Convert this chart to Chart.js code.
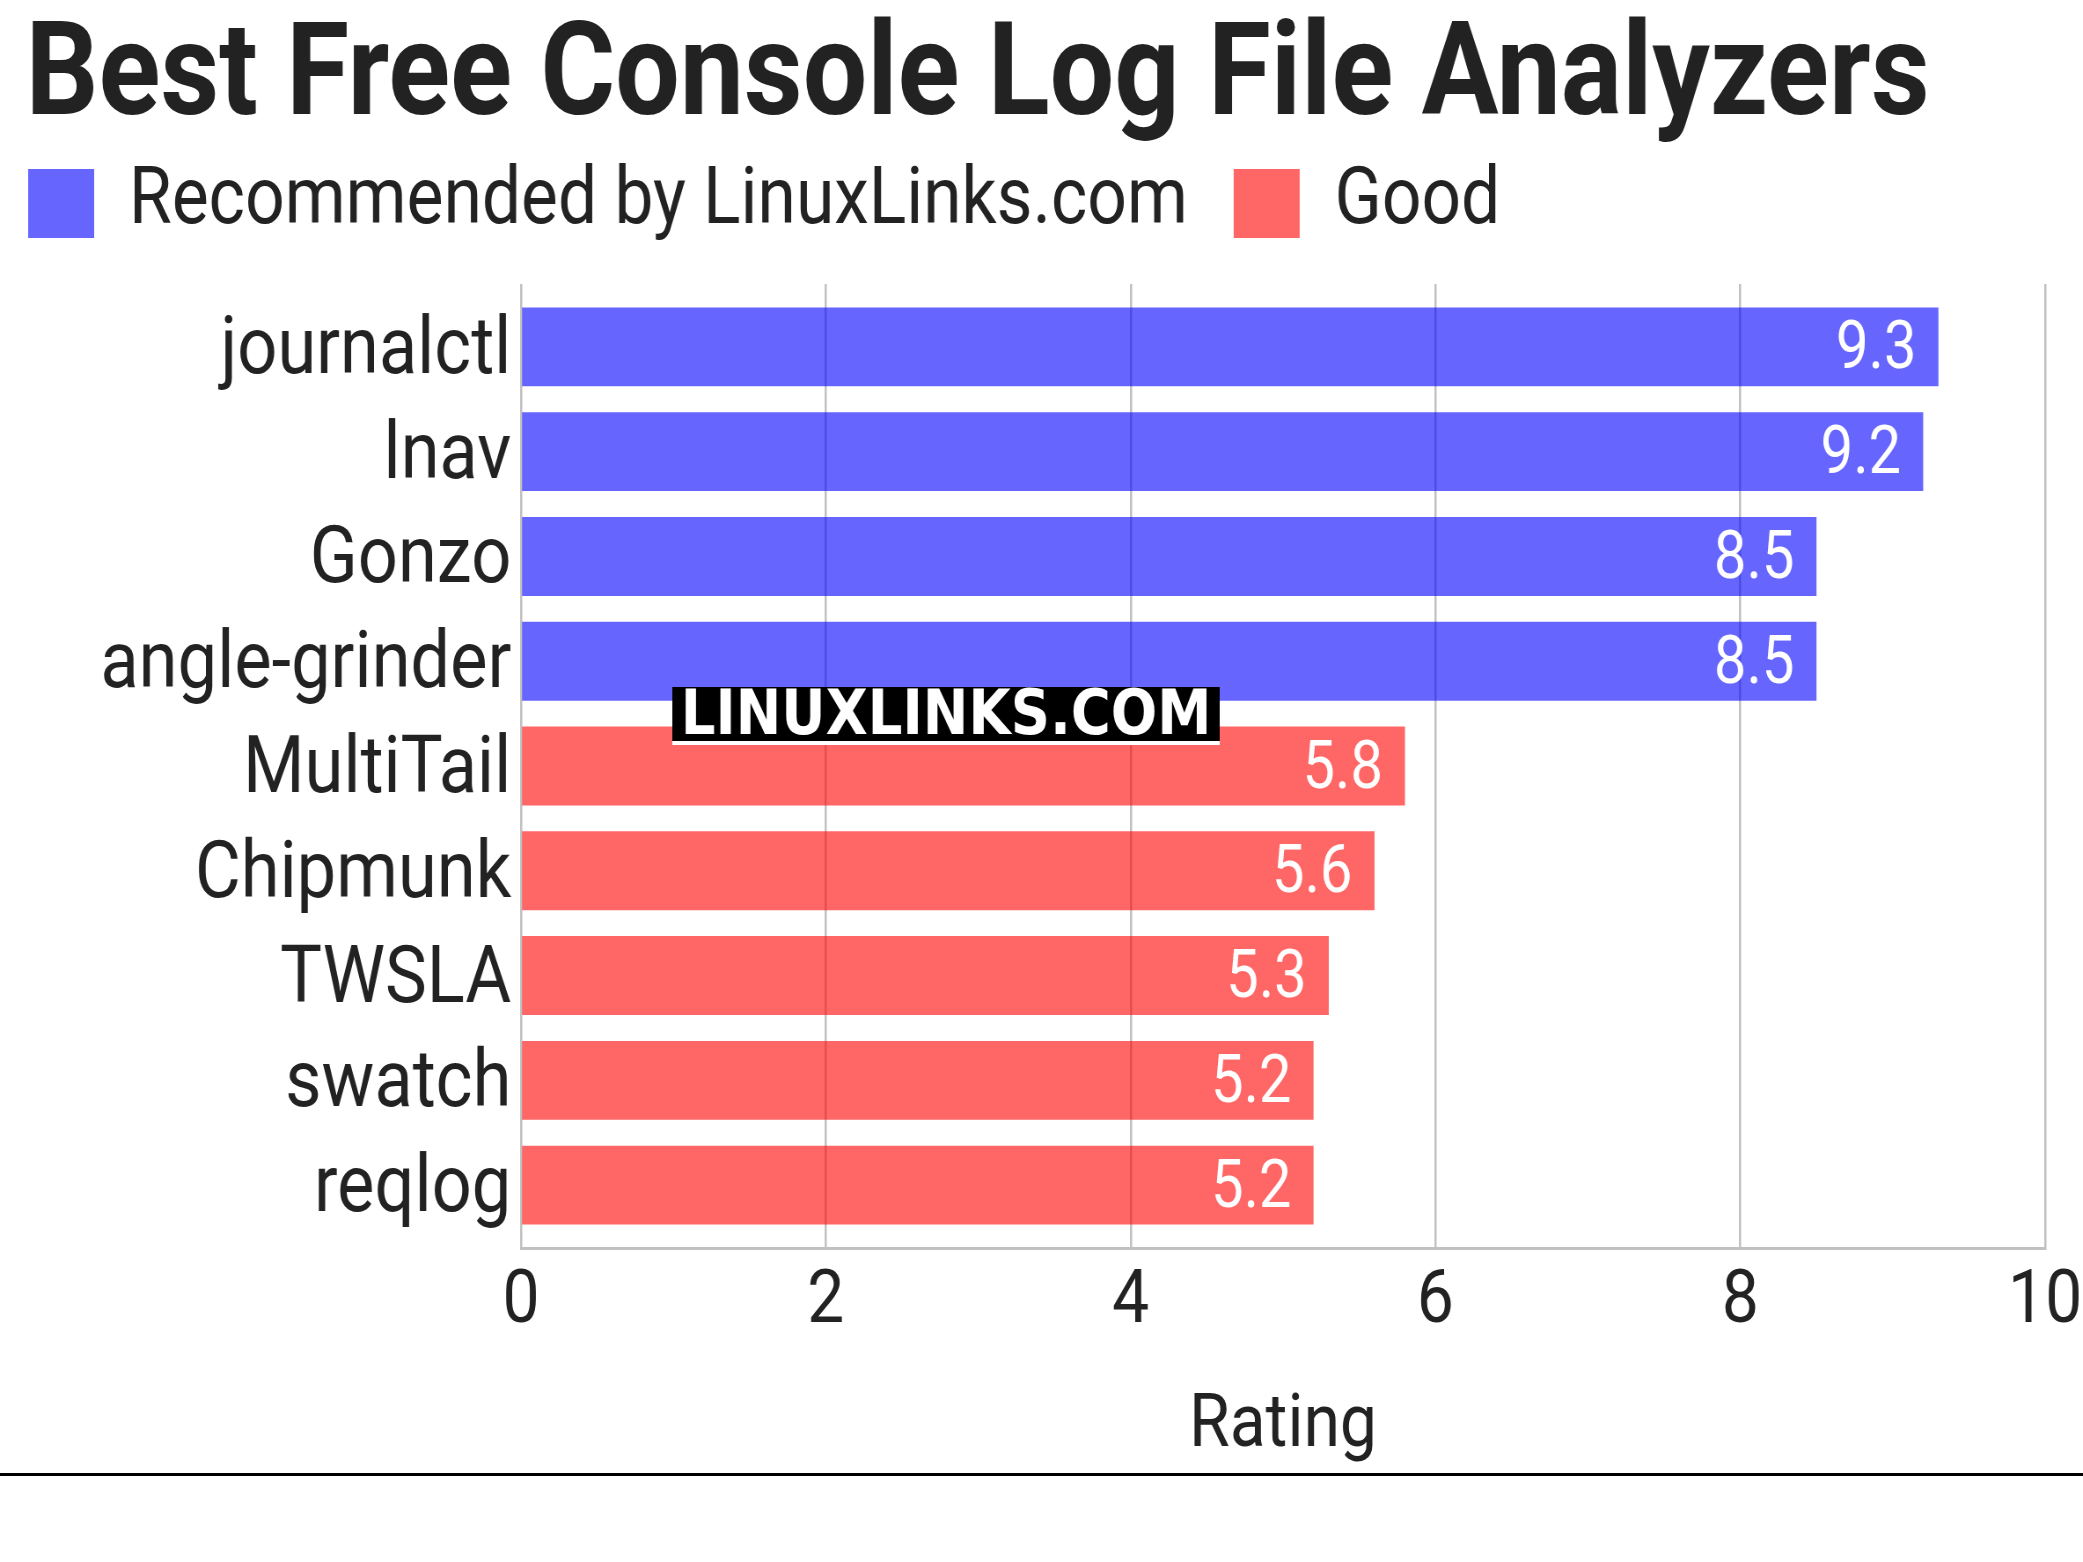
<!DOCTYPE html>
<html><head><meta charset="utf-8">
<script src="https://cdn.jsdelivr.net/npm/chart.js@4.4.1/dist/chart.umd.min.js"></script>
<style>
html,body{margin:0;padding:0;overflow:hidden;background:#fff;width:2083px;height:1562px}
#c{transform:scaleX(0.88);transform-origin:0 0;display:block}
</style></head>
<body><canvas id="c" width="2367" height="1562"></canvas>
<script>
const chartTitle = 'Best Free Console Log File Analyzers';
const categories = ['journalctl','lnav','Gonzo','angle-grinder','MultiTail','Chipmunk','TWSLA','swatch','reqlog'];
const recommended = [9.3, 9.2, 8.5, 8.5, null, null, null, null, null];
const good = [null, null, null, null, 5.8, 5.6, 5.3, 5.2, 5.2];
const seriesNames = ['Recommended by LinuxLinks.com', 'Good'];
const xTicks = [0, 2, 4, 6, 8, 10];
const axisTitle = 'Rating';
const watermark = 'LINUXLINKS.COM';

function toPoints(arr){ return arr.map((v,i)=>v==null?null:{x:v,y:i}).filter(p=>p); }

const FONT = 'Roboto';

const valueLabels = {
  id:'valueLabels',
  afterDraw(chart){
    const ctx = chart.ctx;
    ctx.save();
    ctx.font = '66px ' + FONT;
    ctx.fillStyle = '#ffffff';
    ctx.textAlign = 'right';
    ctx.textBaseline = 'middle';
    chart.data.datasets.forEach((ds, di) => {
      const meta = chart.getDatasetMeta(di);
      meta.data.forEach((el, i) => {
        const v = ds.data[i].x;
        ctx.fillText(v.toFixed(1), el.x - 25, el.y + 5);
      });
    });
    ctx.restore();
  }
};

const decor = {
  id:'decor',
  afterLayout(chart){
    if (chart.legend) chart.legend.left -= 49;
  },
  afterDraw(chart){
    const ctx = chart.ctx;
    ctx.save();
    ctx.fillStyle = '#000';
    ctx.fillRect(764, 687, 622, 54);
    ctx.fillStyle = '#fff';
    ctx.fillRect(764, 741, 622, 4);
    ctx.font = 'bold 62px "DejaVu Sans"';
    ctx.textAlign = 'center';
    ctx.textBaseline = 'alphabetic';
    ctx.fillText(watermark, 1075, 734, 614);
    ctx.fillStyle = '#000';
    ctx.fillRect(0, 1473, chart.width, 3);
    ctx.restore();
  }
};

new Chart(document.getElementById('c'), {
  type:'bar',
  data:{
    datasets:[
      {label:seriesNames[0], data:toPoints(recommended), backgroundColor:'rgba(0,0,255,0.6)', borderWidth:0, categoryPercentage:1, barPercentage:0.753, grouped:false},
      {label:seriesNames[1], data:toPoints(good), backgroundColor:'rgba(255,0,0,0.6)', borderWidth:0, categoryPercentage:1, barPercentage:0.753, grouped:false}
    ]
  },
  options:{
    responsive:false, animation:false, devicePixelRatio:1, indexAxis:'y',
    layout:{padding:{left:29, right:43, top:0, bottom:90}},
    plugins:{
      title:{display:true, text:chartTitle, align:'start', color:'#222', font:{family:FONT, size:130, weight:'bold', lineHeight:0.25}, padding:{top:65, bottom:14.5}},
      legend:{display:true, position:'top', align:'start', weight:1800,
        labels:{boxWidth:75, boxHeight:69, padding:52, color:'#222', font:{family:FONT, size:79}}},
      subtitle:{display:true, text:'', font:{size:10, lineHeight:1}, padding:{top:21, bottom:0}},
      tooltip:{enabled:false}
    },
    scales:{
      x:{type:'linear', position:'bottom', min:0, max:10,
        afterBuildTicks:s=>{ s.ticks = xTicks.map(v=>({value:v})); },
        afterFit:s=>{ s.paddingRight = 0; },
        ticks:{color:'#222', font:{family:FONT, size:75, lineHeight:1.2}, padding:10},
        grid:{color:'#c0c0c0', lineWidth:2.5, drawTicks:false},
        border:{display:true, color:'#c0c0c0', width:3, z:1},
        title:{display:true, text:axisTitle, color:'#222', font:{family:FONT, size:75, lineHeight:1.2}, padding:{top:24, bottom:0}}
      },
      y:{type:'linear', min:-0.6, max:8.6, reverse:true, offset:false,
        afterBuildTicks:s=>{ s.ticks = categories.map((c,i)=>({value:i})); },
        afterFit:s=>{ s.width = 563; },
        ticks:{callback:v=>categories[v], color:'#222', font:{family:FONT, size:80}, padding:11, labelOffset:6},
        grid:{display:false, drawTicks:false, offset:false},
        border:{display:false}
      }
    }
  },
  plugins:[valueLabels, decor]
});
</script>
</body></html>
